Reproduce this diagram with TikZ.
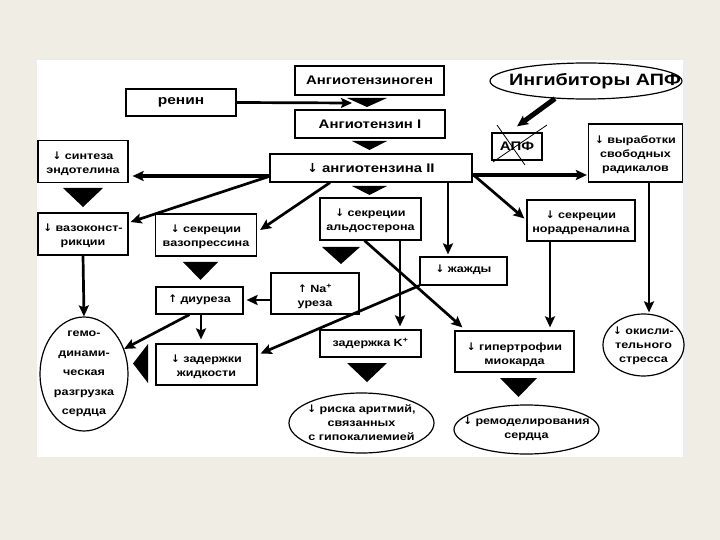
\documentclass[tikz,border=0pt]{standalone}
\usepackage{fontspec}
\setmainfont{Liberation Sans}[FakeStretch=1.2]
\newfontfamily\arrowfont{DejaVu Sans}
\newcommand{\dn}{\smash{{\arrowfont\bfseries ↓}}}
\newcommand{\up}{\smash{{\arrowfont\bfseries ↑}}}
\usepackage{tikz}
\usetikzlibrary{arrows.meta,calc,shapes.geometric}
\definecolor{pagebg}{RGB}{240,238,228}

\begin{document}
\begin{tikzpicture}[x=1bp,y=-1bp,
  box/.style={draw,line width=1.2bp,fill=white,align=center,inner sep=1bp,
    font=\bfseries\fontsize{10.5}{14}\selectfont},
  bigbox/.style={box,font=\bfseries\fontsize{12.5}{15}\selectfont},
  oval/.style={draw,ellipse,line width=1.2bp,fill=white,inner sep=0pt},
  txt/.style={align=center,inner sep=0pt,font=\bfseries\fontsize{10.5}{14}\selectfont},
  arr/.style={line width=2.7bp,-{Stealth[length=11bp,width=10bp,inset=2bp]}},
  fatarr/.style={arr,line width=4bp}]
  \useasboundingbox (0,0) rectangle (720,540);
  \fill[pagebg] (0,0) rectangle (720,540);
  \fill[white] (37,60) rectangle (687,457);
  \fill[black!7] (683,60) rectangle (687,457);

  % top chain
  \node[bigbox,minimum width=149bp,minimum height=29bp] (agn) at (369.5,80.5) {Ангиотензиноген};
  \node[bigbox,font=\bfseries\fontsize{13}{15}\selectfont,minimum width=110bp,minimum height=27bp] (ren) at (181,102.5) {ренин};
  \node[bigbox,minimum width=150bp,minimum height=28bp] (a1) at (370,124) {Ангиотензин I};
  \node[bigbox,minimum width=202bp,minimum height=28bp] (a2) at (371,168) {\dn{} ангиотензина II};
  \node[oval,minimum width=192bp,minimum height=36bp] (ig) at (586,81) {};
  \node[txt,font=\bfseries\fontsize{16.5}{20}\selectfont] (igt) at (595,81) {Ингибиторы АПФ};
  \node[bigbox,minimum width=50bp,minimum height=27bp] (apf) at (517,146.5) {АПФ};
  \node[box,minimum width=94bp,minimum height=58bp] (fr) at (635.5,153) {};
  \node[txt] (frt) at ($(fr)+(0,2)$) {\dn{} выработки\\свободных\\радикалов};

  % middle
  \node[box,minimum width=90bp,minimum height=42bp] (se) at (83,161.5) {};
  \node[txt] (set) at ($(se)+(0,3)$) {\dn{} синтеза\\эндотелина};
  \node[box,minimum width=90bp,minimum height=42bp] (vk) at (83,234) {};
  \node[txt] (vkt) at ($(vk)+(0,3)$) {\dn{} вазоконст-\\рикции};
  \node[box,minimum width=101bp,minimum height=42bp] (vp) at (206,235) {};
  \node[txt] (vpt) at ($(vp)+(0,3)$) {\dn{} секреции\\вазопрессина};
  \node[box,minimum width=101bp,minimum height=42bp] (al) at (370.5,219) {};
  \node[txt] (alt) at ($(al)+(0,3)$) {\dn{} секреции\\альдостерона};
  \node[box,minimum width=108bp,minimum height=41bp] (nor) at (581,220.5) {};
  \node[txt] (nort) at ($(nor)+(0,3)$) {\dn{} секреции\\норадреналина};
  \node[box,minimum width=87bp,minimum height=28bp] (zh) at (463.5,271) {\dn{} жажды};
  \node[box,minimum width=88bp,minimum height=41bp] (nu) at (315,293.5) {};
  \node[txt] (nut) at ($(nu)+(0,3)$) {\up{} Na\textsuperscript{+}\\уреза};
  \node[box,minimum width=87bp,minimum height=27bp] (di) at (199.5,300.5) {\up{} диуреза};

  % bottom
  \node[oval,minimum width=88bp,minimum height=114bp] (hg) at (84,374) {};
  \node[txt,font=\bfseries\fontsize{10.5}{19.5}\selectfont] (hgt) at (hg) {гемо-\\динами-\\ческая\\разгрузка\\сердца};
  \node[box,minimum width=101bp,minimum height=41bp] (zd) at (206.5,364.5) {};
  \node[txt] (zdt) at ($(zd)+(0,3)$) {\dn{} задержки\\жидкости};
  \node[box,minimum width=101bp,minimum height=27bp] (zk) at (370.5,343.5) {задержка K\textsuperscript{+}};
  \node[box,minimum width=119bp,minimum height=41bp] (gt) at (514.5,351.5) {};
  \node[txt] (gtt) at ($(gt)+(0,3)$) {\dn{} гипертрофии\\миокарда};
  \node[oval,minimum width=81bp,minimum height=62bp] (ok) at (643.5,345) {};
  \node[txt] (okt) at ($(ok)+(0,1.5)$) {\dn{} окисли-\\тельного\\стресса};
  \node[oval,minimum width=145bp,minimum height=60bp] (ra) at (361.5,423) {};
  \node[txt] (rat) at (ra) {\dn{} риска аритмий,\\связанных\\с гипокалиемией};
  \node[oval,minimum width=145bp,minimum height=49bp] (rs) at (526.5,429.5) {};
  \node[txt] (rst) at (rs) {\dn{} ремоделирования\\сердца};

  % black wedges
  \foreach \xa/\xb/\ya/\yb in {347/387/98/107, 352/387/141/150, 352/387/186/195,
      63/103/188/207, 183/218/262/280, 322/360/247/264, 347/387/363/382, 500/537/378/397}
    \fill (\xa,\ya) -- (\xb,\ya) -- ({(\xa+\xb)/2},\yb) -- cycle;
  \fill (148,344) -- (148,383) -- (133,363.5) -- cycle;

  % crossed out ACE
  \draw[line width=0.8bp] (493,162) -- (547,125) (497,125) -- (525,165);

  % connectors
  \coordinate (rtip) at (352,103);
  \coordinate (a6) at ($(a2.south)+(77,0)$);
  \coordinate (fr8) at ($(fr.south)+(13.5,0)$);
  \coordinate (nr9) at ($(nor.south)+(-31,0)$);
  \coordinate (al10) at ($(al.south)+(29.5,0)$);
  \coordinate (di14) at ($(di.south)+(1.5,0)$);
  \draw[arr] (ren.east) -- (rtip);
  \draw[arr,line width=5bp] ($(ig.south)+(-31,-1)$) -- ($(apf.north)+(0,-6)$);
  \draw[fatarr] ($(a2.west)+(0,8)$) -- ($(a2.west -| se.east)+(4,8)$);
  \draw[fatarr] ($(a2.east)+(0,7)$) -- ($(a2.east -| fr.west)+(-1,7)$);
  \draw[arr] ($(a2.west)+(-2,9)$) -- ($(vk.east)+(2,-12)$);
  \draw[arr] ($(a2.south)+(-41,0)$) -- ($(vp.east)+(3,-5)$);
  \draw[arr] (a6) -- ($(a6 |- zh.north)+(0,-2)$);
  \draw[arr] ($(a2.east)+(1,7)$) -- ($(nor.west)+(-2,-2)$);
  \draw[arr] (fr8) -- ($(fr8 |- ok.north)+(0,-1)$);
  \draw[arr] (nr9) -- ($(nr9 |- gt.north)+(0,-3)$);
  \draw[arr] (al10) -- ($(al10 |- zk.north)+(0,-3)$);
  \draw[arr] ($(al.south)+(-6,0)$) -- ($(gt.north west)+(8,-3)$);
  \draw[arr] (zh.south west) -- ($(zd.east)+(3,-11)$);
  \draw[arr] ($(nu.west)+(0,6.5)$) -- ($(nu.west -| di.east)+(3,6.5)$);
  \draw[arr] (di14) -- ($(di14 |- zd.north)+(0,-4)$);
  \draw[arr] ($(di.south)+(-10,0)$) -- (hg.32);
  \draw[arr] (vk.south) -- (hg.north);
\end{tikzpicture}
\end{document}
